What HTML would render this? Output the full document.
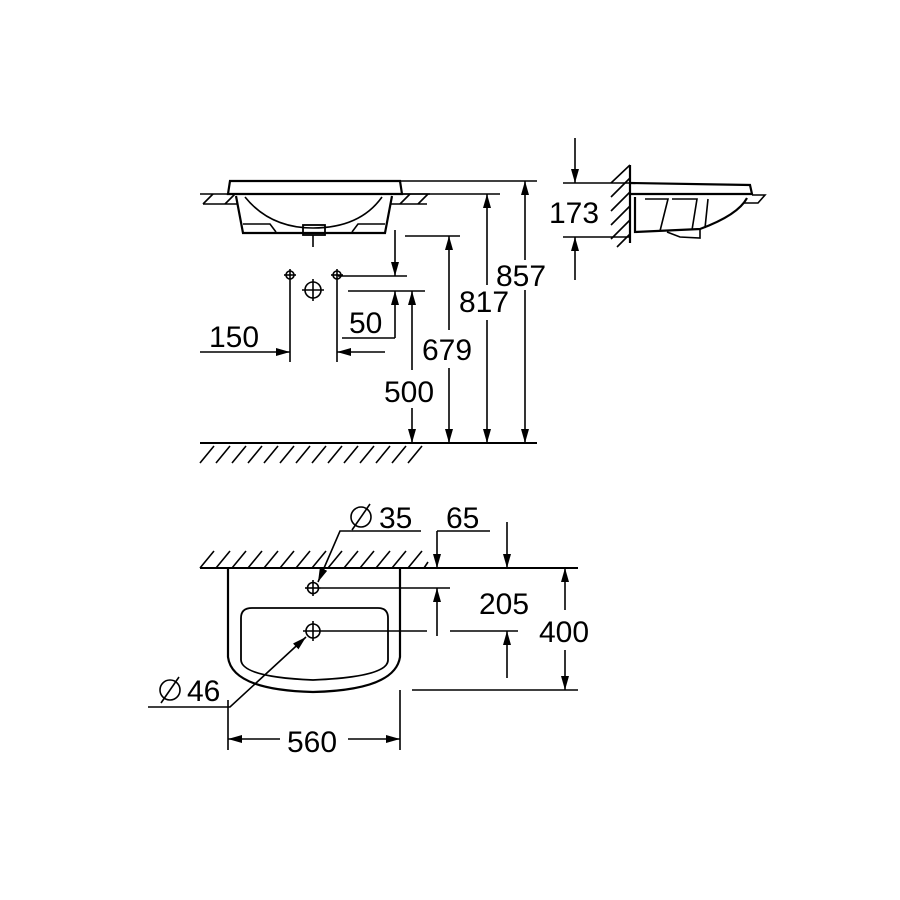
<!DOCTYPE html>
<html><head><meta charset="utf-8"><style>
html,body{margin:0;padding:0;background:#fff}
svg{display:block}
text{font-family:"Liberation Sans",sans-serif;font-size:30px;fill:#000}
</style></head><body>
<svg width="900" height="900" viewBox="0 0 900 900" xmlns="http://www.w3.org/2000/svg">
<defs>
<marker id="a" viewBox="0 0 14 8" refX="14" refY="4" markerWidth="14" markerHeight="8" markerUnits="userSpaceOnUse" orient="auto"><path d="M0,0 L14,4 L0,8 Z" fill="#000"/></marker>
</defs>
<g stroke="#000" stroke-width="1.6" fill="none">
<line x1="200" y1="194" x2="240" y2="194"/><line x1="203" y1="204" x2="238" y2="204"/>
<line x1="393" y1="194" x2="430" y2="194"/><line x1="390" y1="204" x2="427" y2="204"/>
<path d="M203,204 L213,194 M225,204 L235,194 M400,204 L410,194 M418,204 L428,194"/>
<path d="M230,181 L400,181 L402,194 L228,194 Z" stroke-width="2.2"/>
<path d="M236,196 L243,233 L385,233 L392,196" stroke-width="2.2"/>
<path d="M245,197 Q270,228 313,228 Q360,228 382,197"/>
<path d="M243,224 L270,224 L276,232 M385,224 L358,224 L352,232"/>
<rect x="303" y="225" width="22" height="10" stroke-width="1.8"/>
<line x1="313" y1="235" x2="313" y2="247"/>
<line x1="400" y1="181" x2="537" y2="181"/>
<line x1="402" y1="194" x2="500" y2="194"/>
<line x1="525" y1="260" x2="525" y2="181" marker-end="url(#a)"/>
<line x1="525" y1="290" x2="525" y2="443" marker-end="url(#a)"/>
<line x1="487" y1="285" x2="487" y2="194" marker-end="url(#a)"/>
<line x1="487" y1="320" x2="487" y2="443" marker-end="url(#a)"/>
<line x1="405" y1="236" x2="460" y2="236"/>
<line x1="449" y1="330" x2="449" y2="236" marker-end="url(#a)"/>
<line x1="449" y1="368" x2="449" y2="443" marker-end="url(#a)"/>
<line x1="348" y1="291" x2="425" y2="291"/>
<line x1="412" y1="370" x2="412" y2="291" marker-end="url(#a)"/>
<line x1="412" y1="408" x2="412" y2="443" marker-end="url(#a)"/>
<line x1="338" y1="276" x2="407" y2="276"/>
<line x1="395" y1="230" x2="395" y2="276" marker-end="url(#a)"/>
<line x1="395" y1="338" x2="395" y2="291" marker-end="url(#a)"/>
<line x1="342" y1="338" x2="395" y2="338"/>
<circle cx="290" cy="275" r="4"/><line x1="284" y1="275" x2="296" y2="275"/><line x1="290" y1="269" x2="290" y2="362"/>
<circle cx="337" cy="275" r="4"/><line x1="331" y1="275" x2="343" y2="275"/><line x1="337" y1="269" x2="337" y2="362"/>
<circle cx="313" cy="290" r="8"/><line x1="302" y1="290" x2="324" y2="290"/><line x1="313" y1="279" x2="313" y2="301"/>
<line x1="200" y1="352" x2="290" y2="352" marker-end="url(#a)"/>
<line x1="385" y1="352" x2="337" y2="352" marker-end="url(#a)"/>
<line x1="200" y1="443" x2="537" y2="443" stroke-width="2"/>
<path d="M200,463 L214,446 M216,463 L230,446 M232,463 L246,446 M248,463 L262,446 M264,463 L278,446 M280,463 L294,446 M296,463 L310,446 M312,463 L326,446 M328,463 L342,446 M344,463 L358,446 M360,463 L374,446 M376,463 L390,446 M392,463 L406,446 M408,463 L422,446"/>

<line x1="630" y1="165" x2="630" y2="243" stroke-width="2.2"/>
<path d="M611,183 L630,165 M611,197 L630,178 M611,211 L630,192 M611,225 L630,206 M611,239 L630,220 M617,247 L630,234"/>
<line x1="575" y1="138" x2="575" y2="183" marker-end="url(#a)"/>
<line x1="575" y1="280" x2="575" y2="237" marker-end="url(#a)"/>
<line x1="563" y1="183" x2="630" y2="183"/>
<line x1="563" y1="237" x2="630" y2="237"/>
<path d="M630,183 L750,185 L752,194 L630,194" stroke-width="2.2"/>
<path d="M752,195 L765,195 L758,203 L743,203"/>
<path d="M635,197 L635,232 L700,229 Q738,215 747,198" stroke-width="2.2"/>
<path d="M667,232 L680,237 L700,238 L700,229"/>
<path d="M645,199 L668,199 L660,231 M672,199 L697,199 L692,230 M708,199 L705,228"/>

<line x1="200" y1="568" x2="578" y2="568" stroke-width="2"/>
<path d="M200,568 L214,551 M216,568 L230,551 M232,568 L246,551 M248,568 L262,551 M264,568 L278,551 M280,568 L294,551 M296,568 L310,551 M312,568 L326,551 M328,568 L342,551 M344,568 L358,551 M360,568 L374,551 M376,568 L390,551 M392,568 L406,551 M408,568 L422,551 M424,568 L428,562"/>
<path d="M228,568 L228,657 Q232,690 313,692 Q395,690 400,657 L400,568" stroke-width="2.2"/>
<path d="M252,608 L378,608 Q388,608 388,618 L388,660 Q388,677 313,680 Q242,677 241,660 L241,618 Q241,608 252,608 Z" stroke-width="1.8"/>
<circle cx="313" cy="588" r="5.5"/><line x1="305" y1="588" x2="321" y2="588"/><line x1="313" y1="580" x2="313" y2="596"/>
<circle cx="313" cy="631" r="7"/><line x1="303" y1="631" x2="323" y2="631"/><line x1="313" y1="621" x2="313" y2="641"/>
<line x1="321" y1="588" x2="450" y2="588"/>
<line x1="323" y1="631" x2="427" y2="631"/>
<line x1="450" y1="631" x2="518" y2="631"/>
<line x1="412" y1="690" x2="578" y2="690"/>
<line x1="565" y1="610" x2="565" y2="568" marker-end="url(#a)"/>
<line x1="565" y1="650" x2="565" y2="690" marker-end="url(#a)"/>
<line x1="437" y1="531" x2="490" y2="531"/>
<line x1="437" y1="531" x2="437" y2="568" marker-end="url(#a)"/>
<line x1="507" y1="522" x2="507" y2="568" marker-end="url(#a)"/>
<line x1="437" y1="636" x2="437" y2="588" marker-end="url(#a)"/>
<line x1="507" y1="678" x2="507" y2="631" marker-end="url(#a)"/>
<path d="M421,531 L340,531 L318,582" marker-end="url(#a)"/>
<path d="M148,707 L230,707 L306,637" marker-end="url(#a)"/>
<line x1="228" y1="700" x2="228" y2="750"/>
<line x1="400" y1="690" x2="400" y2="750"/>
<line x1="280" y1="739" x2="228" y2="739" marker-end="url(#a)"/>
<line x1="348" y1="739" x2="400" y2="739" marker-end="url(#a)"/>
<circle cx="361" cy="517" r="10"/><line x1="352" y1="530" x2="370" y2="504"/>
<circle cx="170" cy="690" r="10"/><line x1="161" y1="703" x2="179" y2="677"/>
</g>
<text x="496" y="286">857</text>
<text x="459" y="312">817</text>
<text x="422" y="360">679</text>
<text x="384" y="402">500</text>
<text x="209" y="347">150</text>
<text x="349" y="333">50</text>
<text x="549" y="223">173</text>
<text x="379" y="528">35</text>
<text x="446" y="528">65</text>
<text x="479" y="614">205</text>
<text x="539" y="642">400</text>
<text x="187" y="701">46</text>
<text x="287" y="752">560</text>
</svg>
</body></html>
